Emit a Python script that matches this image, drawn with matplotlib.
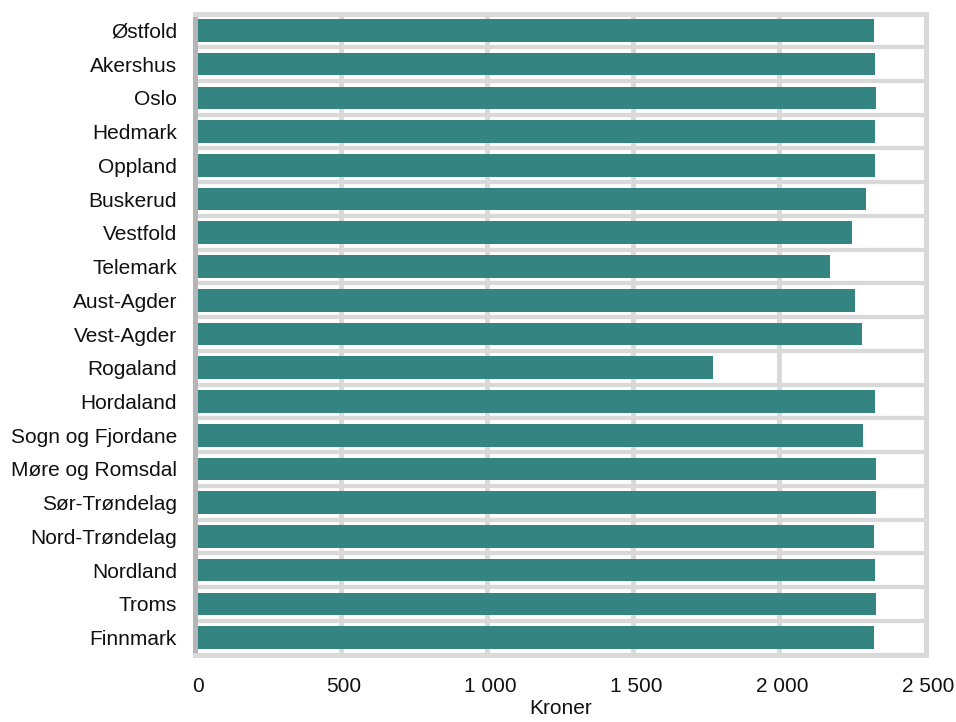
import matplotlib
matplotlib.use("Agg")
import matplotlib.pyplot as plt
import matplotlib.transforms as mtransforms
from matplotlib.ticker import FuncFormatter, FixedLocator
import numpy as np

plt.rcParams['font.family'] = ['Liberation Sans', 'DejaVu Sans']

fylker = ["Østfold", "Akershus", "Oslo", "Hedmark", "Oppland", "Buskerud",
          "Vestfold", "Telemark", "Aust-Agder", "Vest-Agder", "Rogaland",
          "Hordaland", "Sogn og Fjordane", "Møre og Romsdal", "Sør-Trøndelag",
          "Nord-Trøndelag", "Nordland", "Troms", "Finnmark"]
kroner = [2323, 2328, 2331, 2327, 2326, 2295, 2249, 2172, 2258, 2283, 1771,
          2328, 2286, 2330, 2331, 2323, 2328, 2330, 2323]
xticks = [0, 500, 1000, 1500, 2000, 2500]
xlabel = "Kroner"

bar_color = "#348481"
grid_color = "#d9d9d9"

fig = plt.figure(figsize=(9.56, 7.22), dpi=100)
ax = fig.add_axes([195/956, 1-654.5/722, (925.6-195)/956, (654.5-13.5)/722])

y = np.arange(len(fylker))
ax.barh(y, kroner, height=0.67, color=bar_color, zorder=3)

ax.set_xlim(0, 2500)
ax.set_ylim(len(fylker)-0.5, -0.5)

ax.xaxis.set_major_locator(FixedLocator(xticks))
ax.xaxis.set_major_formatter(FuncFormatter(lambda v, p: f"{int(v):,}".replace(",", " ")))
ax.set_yticks(y)
ax.set_yticklabels(fylker)
ax.set_yticks(np.arange(-0.5, len(fylker)), minor=True)

ax.grid(axis='x', which='major', color=grid_color, linewidth=3.5, zorder=1)
ax.grid(axis='y', which='minor', color=grid_color, linewidth=3.1, zorder=1)
ax.set_axisbelow(True)

ax.tick_params(axis='both', which='both', length=0, labelsize=15, labelcolor="#111111")
ax.tick_params(axis='y', pad=13)
ax.tick_params(axis='x', pad=16)

offset = mtransforms.ScaledTranslation(3/100, 0, fig.dpi_scale_trans)
for lbl in ax.get_xticklabels():
    lbl.set_transform(lbl.get_transform() + offset)

for side in ['top', 'right', 'bottom']:
    ax.spines[side].set_color(grid_color)
    ax.spines[side].set_linewidth(3.6)
ax.spines['left'].set_color("#b5b5b5")
ax.spines['left'].set_linewidth(3.6)
for s in ax.spines.values():
    s.set_zorder(4)

ax.set_xlabel(xlabel, fontsize=15, labelpad=2, color="#111111")

fig.savefig("out.png", dpi=100)
